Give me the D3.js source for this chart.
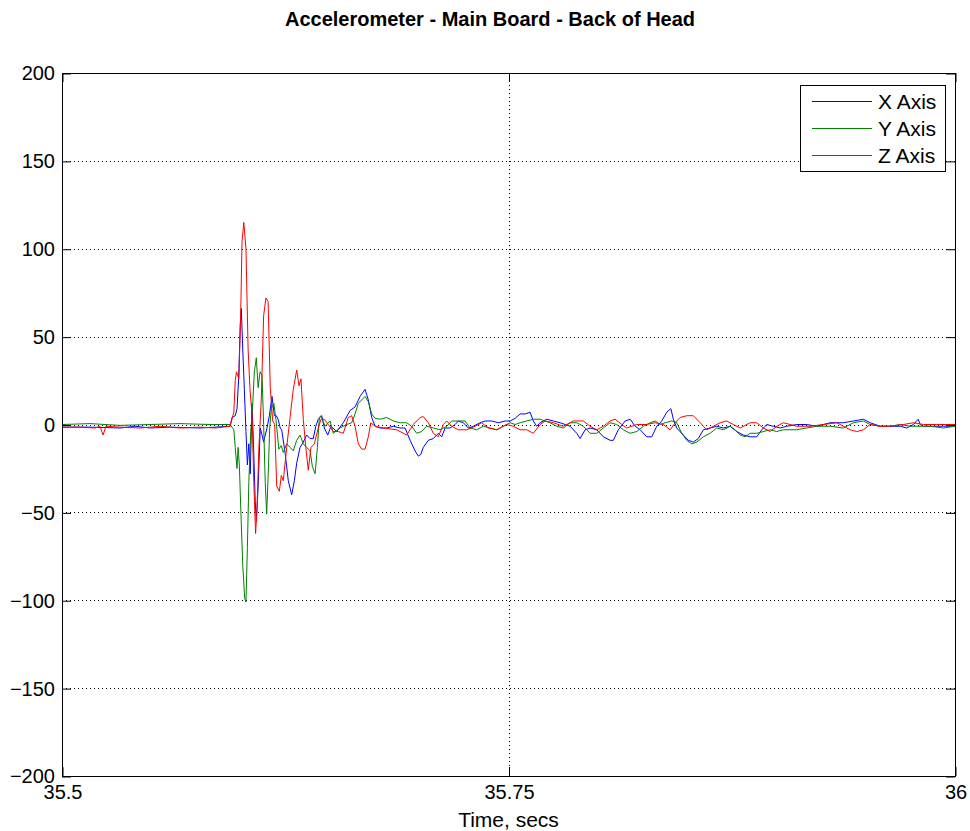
<!DOCTYPE html>
<html>
<head>
<meta charset="utf-8">
<script src="https://cdn.jsdelivr.net/npm/d3@7"></script>
<style>
  body { margin: 0; background: #fff; }
  svg { display: block; font-family: "Liberation Sans", Arial, sans-serif; }
</style>
</head>
<body>
<div id="chart"></div>
<script>
const t0 = 35.5;
const xTicks = [35.5, 35.75, 36];
const yTicks = [-200, -150, -100, -50, 0, 50, 100, 150, 200];
const seriesNames = ["X Axis", "Y Axis", "Z Axis"];
const seriesColors = ["#0000ff", "#008000", "#ff0000"];

const timeX = [0, 15.7, 32.5, 40.9, 49.3, 60.5, 77.3, 85.7, 94.1, 95.2, 97.0, 98.0, 99.0, 99.8, 100.4, 101.2, 102.1, 103.0, 103.8, 104.6, 105.4, 106.4, 107.4, 108.2, 108.8, 109.8, 111.0, 112.0, 112.9, 113.8, 114.8, 116.1, 117.6, 118.9, 120.0, 121.0, 122.2, 123.0, 124.9, 126.7, 128.6, 130.1, 131.4, 133.3, 135.1, 137.0, 138.9, 140.7, 142.1, 143.5, 145.4, 146.9, 148.8, 150.6, 153.8, 157.5, 161.3, 164.1, 166.9, 169.7, 171.5, 173.4, 175.3, 178.1, 181.8, 185.5, 189.3, 192.1, 194.9, 197.7, 199.5, 200.9, 202.3, 205.1, 207.9, 210.7, 212.6, 214.5, 217.3, 220.1, 221.9, 224.7, 227.5, 230.3, 234.1, 236.9, 240.6, 244.3, 248.1, 250.9, 253.7, 256.5, 259.3, 262.1, 263.9, 265.8, 267.7, 271.4, 275.1, 278.9, 284.5, 288.2, 290.1, 292.9, 295.7, 299.4, 303.1, 306.9, 308.7, 311.5, 315.3, 318.1, 320.9, 323.7, 327.4, 330.2, 333.0, 335.8, 338.6, 340.9, 342.3, 344.2, 347.9, 350.7, 353.5, 356.3, 359.1, 362.9, 366.6, 370.3, 374.1, 377.8, 381.5, 385.3, 389.0, 391.8, 394.6, 398.3, 402.1, 405.8, 411.4, 417.0, 422.6, 430.1, 437.5, 443.1, 448.7, 452.5, 458.1, 463.7, 469.3, 473.0, 476.7, 479.4, 480.5, 482.3, 487.9, 493.5, 500];
const accelX = [-1.5, -1.5, -2, -1, -2, -1.5, -2, -1.5, -1, 4, 5, 9, 28, 57, 66, 43, 20, -4, -23, -11, -28, 12, -17, -44, -55, -36, -2, -6, -10, -6, -2, 5, 16, 5, 5, 3, -2, -3, -16, -32, -40, -32, -22, -13, -10, -6, -8, -8, -1, 3, 5, -2, -6, -1, -4, 1, 8, 10, 16, 20, 14, 4, -1, -2, -2, -1, -2, -2, -9, -15, -18, -17, -13, -9, -8, -5, -7, -2, -2, 0, 2, 1, -2, -1, 1, 2, 2, 1, 2, 2, 3.5, 6, 6, 7, 2, -1, 1, 3, 2, 1, -1, -5, -8, -3, -2, -3, -7, -9, -9, -3, 2, 3, -1, -3, -7, -7, -1, 2, 7, 9, 3, -2, -6, -9, -10, -8, -3, -2, -1, -2, -1, -4, -6, -7, -7, -3, 0, -1, -2, -1, 0, 0, -1, 1, 1, 2, 3, 1, -1, -1, -1, -2, 0, 3, 0, -1, -1, -1, -1];

const timeY = [0, 15.7, 32.5, 49.3, 66.1, 82.9, 94.1, 96.2, 97.0, 98.0, 98.6, 99.3, 100.2, 101.2, 102.3, 103.0, 103.8, 104.6, 105.7, 106.8, 107.7, 108.8, 109.8, 110.9, 112.0, 112.9, 113.8, 114.6, 115.4, 116.3, 117.2, 118.6, 119.8, 121.4, 122.8, 123.9, 125.8, 127.7, 129.5, 131.4, 133.3, 135.1, 137.0, 138.9, 140.2, 141.7, 143.0, 144.1, 145.0, 147.3, 150.1, 151.9, 155.7, 159.4, 162.2, 164.1, 165.9, 167.8, 169.7, 171.5, 173.4, 175.3, 178.1, 181.8, 185.5, 189.3, 193.0, 195.8, 198.6, 201.4, 204.2, 207.9, 211.7, 215.4, 218.2, 221.9, 225.7, 228.5, 232.2, 235.9, 239.7, 243.4, 247.1, 250.9, 253.7, 256.5, 260.2, 263.9, 267.7, 273.3, 277.0, 280.7, 284.5, 288.2, 291.9, 295.7, 299.4, 303.1, 306.9, 310.6, 314.3, 318.1, 321.8, 325.6, 329.3, 332.1, 334.9, 337.7, 341.4, 344.2, 347.0, 349.8, 352.6, 355.4, 359.1, 362.9, 366.6, 370.3, 374.1, 376.9, 379.7, 382.5, 385.3, 389.0, 392.7, 396.5, 400.2, 403.9, 407.7, 411.4, 417.0, 422.6, 430.1, 437.5, 443.1, 448.7, 452.5, 458.1, 463.7, 469.3, 474.9, 480.5, 486.1, 493.5, 500];
const accelY = [0, 0.5, -0.5, 0, 0.5, 0, 0, -3, -13, -25, -13, -23, -51, -80, -99, -101, -70, -33, -4, 12, 30, 38, 21, 30, 28, 0, -33, -51, -30, -2, 9, 12, 3, -14, -12, -16, -11, -13, -15, -9, -6, -11, -13, -15, -24, -28, -13, 4, 5, -1, 2, -5, -2, 0, 1, 6, 12, 14, 16, 13, 6, 3.5, 3, 4, 2, 1, 1, -1, -5, -4, -1, -2, -3, -1, 2, 2, 2, -2, -3, -1, -2, -3, -1, 1, 0, 1, 2, 3, 3, 1, -1, -2, 1, 1, -1, -5, -5, -2, 1, 0, -3, -5, -4, -1, 1, 2, 0, 1, 2, 1, -5, -9, -11, -10, -7, -5, -2, -3, -1, -3, -6, -7, -5, -5, -4, -3, -4, -3, -3, -3, -2, -1, -1, -2, 1, 2, 0, -1, -1, 0, -1, -1, -1, -2, -1];

const timeZ = [0, 10.1, 18.5, 21.3, 23.0, 24.6, 32.5, 43.7, 54.9, 66.1, 77.3, 85.7, 94.1, 96.2, 97.0, 97.7, 99.0, 100.0, 100.8, 101.8, 103.0, 104.2, 105.3, 106.4, 107.4, 108.4, 109.2, 110.2, 111.6, 112.9, 114.2, 115.4, 116.6, 118.0, 119.1, 120.2, 121.7, 122.8, 123.9, 125.8, 127.7, 129.5, 131.4, 132.7, 133.8, 135.1, 136.5, 137.9, 139.4, 141.3, 143.2, 145.0, 146.9, 149.1, 151.8, 154.6, 157.5, 160.3, 162.2, 164.1, 165.9, 167.8, 169.7, 171.5, 172.9, 175.3, 179.8, 187.4, 193.0, 196.7, 200.5, 202.3, 205.1, 207.9, 210.7, 213.5, 215.4, 218.2, 221.9, 226.6, 231.3, 235.0, 238.7, 243.4, 249.0, 252.7, 256.5, 260.2, 263.9, 267.7, 270.5, 275.1, 280.7, 286.3, 291.9, 295.7, 299.4, 303.1, 306.9, 309.7, 313.4, 316.2, 321.8, 327.4, 332.1, 336.7, 340.5, 343.3, 346.1, 349.8, 353.5, 357.3, 361.0, 364.7, 368.5, 372.2, 375.9, 379.7, 385.3, 389.0, 392.7, 396.5, 400.2, 403.9, 407.7, 411.4, 418.9, 426.3, 433.8, 441.3, 445.0, 448.7, 452.5, 458.1, 463.7, 471.1, 476.7, 482.3, 489.8, 500];
const accelZ = [-1.5, -1.5, -2, -1, -6, -1, -1.5, -2, -1, -2, -1.5, -2, -1, 7, 25, 30, 26, 60, 104, 115, 100, 43, 19, 6, -33, -62, -48, -14, 15, 62, 72, 70, 21, 2, 0, -35, -38, -29, -32, -13, 4, 20, 31, 22, 26, 3, -13, -26, -13, -11, -3, 3, 3, 0, -4, -4, -5, 4, 5, -1, -11, -14, -14, -7, 1, -1, -2, -3, -6, 0, 4, 4.5, 1, -5, -7, 0, 2, -1, -3, -3, -1, 1, -2, -3, 0, -1, -3, -3, -5, 0, 2, 1, -1, 2, 2, -1, -3, -1, 2, 3, 0, -2, 0, 0, 1, 0, -3, 1, 4, 5, 5, 1, -3, -1, 1, 2, 0, -2, 1, 1, -2, -4, -1, 1, 0, -1, -1, 0, 1, -3, -4, -3, 0, -1, -1, 0, 1, 0, 0, 0];

const seriesTimes = [timeX, timeY, timeZ];
const seriesValues = [accelX, accelY, accelZ];

const W = 970, H = 831;
const plot = {left: 62, top: 73, right: 955, bottom: 776};
const font = "'Liberation Sans', Arial, sans-serif";

const svg = d3.select("#chart").append("svg")
    .attr("width", W)
    .attr("height", H);

svg.append("rect").attr("width", W).attr("height", H).attr("fill", "#fff");

const x = d3.scaleLinear().domain([35.5, 36]).range([plot.left, plot.right]);
const y = d3.scaleLinear().domain([-200, 200]).range([plot.bottom, plot.top]);

// dotted grid
const grid = svg.append("g").attr("class", "grid")
    .attr("stroke", "#000")
    .attr("stroke-width", 1)
    .attr("stroke-dasharray", "1,3");

grid.selectAll(".hgrid")
    .data(yTicks.filter(d => d > -200 && d < 200))
    .enter().append("line")
    .attr("x1", plot.left).attr("x2", plot.right)
    .attr("y1", d => Math.round(y(d)) + 0.5)
    .attr("y2", d => Math.round(y(d)) + 0.5);

grid.selectAll(".vgrid")
    .data(xTicks.filter(d => d > 35.5 && d < 36))
    .enter().append("line")
    .attr("y1", plot.top).attr("y2", plot.bottom)
    .attr("x1", d => Math.round(x(d)) + 0.5)
    .attr("x2", d => Math.round(x(d)) + 0.5);

// data lines
svg.append("clipPath").attr("id", "clip")
    .append("rect")
    .attr("x", plot.left).attr("y", plot.top)
    .attr("width", plot.right - plot.left).attr("height", plot.bottom - plot.top);

const line = d3.line()
    .x(d => x(t0 + d[0] / 1000))
    .y(d => y(d[1]));

const lines = svg.append("g").attr("clip-path", "url(#clip)");
seriesNames.forEach((name, i) => {
    const pts = seriesTimes[i].map((t, j) => [t, seriesValues[i][j]]);
    lines.append("path")
        .datum(pts)
        .attr("fill", "none")
        .attr("stroke", seriesColors[i])
        .attr("stroke-width", 1)
        .attr("stroke-linejoin", "round")
        .attr("d", line);
});

// axes box with inner ticks
const tickLen = 9;
const bottomAxis = d3.axisBottom(x).tickValues(xTicks).tickSizeInner(-tickLen).tickSizeOuter(0)
    .tickFormat(d => d3.format("")(d)).tickPadding(9);
const topAxis = d3.axisTop(x).tickValues(xTicks).tickSizeInner(-tickLen).tickSizeOuter(0).tickFormat("");
const leftAxis = d3.axisLeft(y).tickValues(yTicks).tickSizeInner(-tickLen).tickSizeOuter(0).tickPadding(7);
const rightAxis = d3.axisRight(y).tickValues(yTicks).tickSizeInner(-tickLen).tickSizeOuter(0).tickFormat("");

function styleAxis(g) {
    g.select(".domain").remove();
    g.selectAll(".tick line").attr("stroke", "#000");
    g.selectAll("text")
        .attr("fill", "#000")
        .style("font-size", "20px")
        .style("font-family", font);
}

svg.append("g").attr("transform", `translate(0.5,${plot.bottom})`).call(bottomAxis).call(styleAxis);
svg.append("g").attr("transform", `translate(0.5,${plot.top})`).call(topAxis).call(styleAxis);
svg.append("g").attr("transform", `translate(${plot.left},0.5)`).call(leftAxis).call(styleAxis);
svg.append("g").attr("transform", `translate(${plot.right},0.5)`).call(rightAxis).call(styleAxis);

svg.append("rect")
    .attr("x", plot.left + 0.5).attr("y", plot.top + 0.5)
    .attr("width", plot.right - plot.left).attr("height", plot.bottom - plot.top)
    .attr("fill", "none").attr("stroke", "#000").attr("stroke-width", 1);

// title and axis label
svg.append("text")
    .attr("x", 490).attr("y", 26)
    .attr("text-anchor", "middle")
    .style("font-size", "20px")
    .style("font-weight", "bold")
    .text("Accelerometer - Main Board - Back of Head");

svg.append("text")
    .attr("x", x(35.75)).attr("y", 827)
    .attr("text-anchor", "middle")
    .style("font-size", "21px")
    .text("Time, secs");

// legend
const legend = svg.append("g").attr("class", "legend");
legend.append("rect")
    .attr("x", 800.5).attr("y", 85.5)
    .attr("width", 145).attr("height", 86)
    .attr("fill", "#fff").attr("stroke", "#000");

seriesNames.forEach((name, i) => {
    const ly = 101 + i * 27;
    legend.append("line")
        .attr("x1", 812).attr("x2", 872)
        .attr("y1", ly + 0.5).attr("y2", ly + 0.5)
        .attr("stroke", seriesColors[i]);
    legend.append("text")
        .attr("x", 878).attr("y", ly + 7.5)
        .style("font-size", "21px")
        .text(name);
});
</script>
</body>
</html>
